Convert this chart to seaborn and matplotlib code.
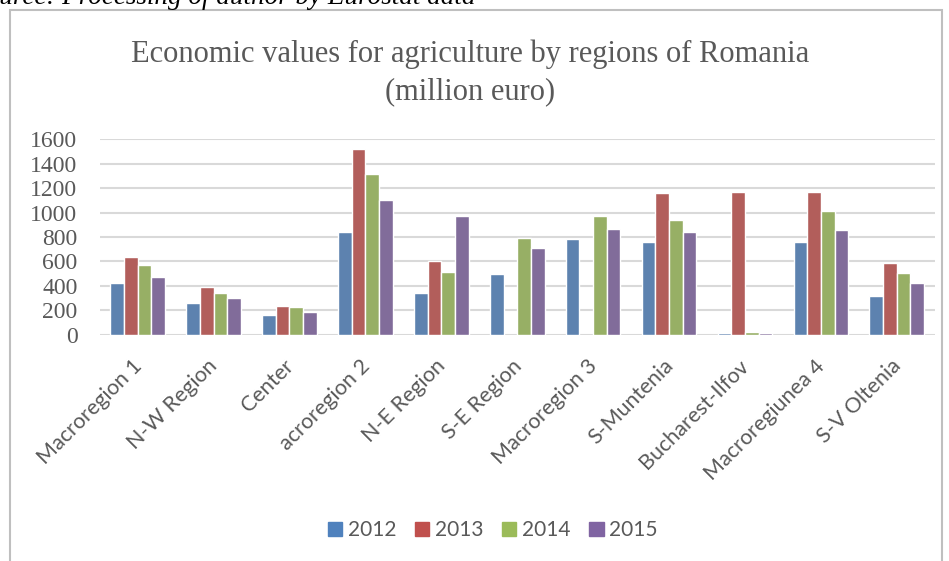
import numpy as np
import pandas as pd
import matplotlib
matplotlib.use("Agg")
import matplotlib.pyplot as plt
import matplotlib.transforms as mtransforms
import seaborn as sns
from matplotlib.patches import Rectangle

regions = ["Macroregion 1", "N-W Region", "Center", "acroregion 2", "N-E Region",
           "S-E Region", "Macroregion 3", "S-Muntenia", "Bucharest-Ilfov",
           "Macroregiunea 4", "S-V Oltenia"]
years = ["2012", "2013", "2014", "2015"]
v2012 = [422, 259, 163, 840, 340, 495, 781, 756, 15, 756, 318]
v2013 = [634, 394, 237, 1520, 601, np.nan, np.nan, 1159, 1167, 1167, 590]
v2014 = [569, 340, 226, 1314, 517, 791, 968, 938, 25, 1009, 506]
v2015 = [476, 299, 185, 1104, 968, 707, 862, 843, 15, 854, 422]
colors = ["#4F81BD", "#C0504D", "#9BBB59", "#8064A2"]

rows = []
for y, vals in zip(years, [v2012, v2013, v2014, v2015]):
    for r, v in zip(regions, vals):
        rows.append({"region": r, "year": y, "value": v})
df = pd.DataFrame(rows)

sns.set_style("white")
plt.rcParams['font.family'] = ['Lato', 'DejaVu Sans']

fig = plt.figure(figsize=(9.49, 5.61), dpi=100)
ax = fig.add_axes([0.105, 0.403, 0.88, 0.349])

sns.barplot(data=df, x="region", y="value", hue="year", hue_order=years,
            palette=colors, width=0.72, edgecolor="white", linewidth=1.0,
            ax=ax, legend=False, zorder=3)

ax.set_ylim(0, 1600)
ax.set_xlim(-0.5, len(regions) - 0.5)
ax.set_yticks(range(0, 1601, 200))
ax.yaxis.grid(True, color="#D9D9D9", linewidth=1.5, zorder=0)
ax.set_axisbelow(True)
for s in ax.spines.values():
    s.set_visible(False)
ax.tick_params(axis="both", length=0)
ax.tick_params(axis="y", pad=16)
ax.set_xlabel("")
ax.set_ylabel("")
for lab in ax.get_yticklabels():
    lab.set_fontfamily(["Liberation Serif", "DejaVu Serif"])
    lab.set_fontsize(17)
    lab.set_color("#595959")
ax.set_xticks(range(len(regions)))
ax.set_xticklabels(regions, rotation=45, ha="right", va="top", rotation_mode="anchor",
                   fontsize=15.5, color="#595959")
ax.tick_params(axis="x", pad=15)
offset = mtransforms.ScaledTranslation(-6 / 100, 0, fig.dpi_scale_trans)
for lab in ax.get_xticklabels():
    lab.set_transform(lab.get_transform() + offset)

fig.text(0.495, 0.903, "Economic values for agriculture by regions of Romania",
         ha="center", va="center", fontsize=22, color="#595959",
         family=["Liberation Serif", "DejaVu Serif"])
fig.text(0.495, 0.836, "(million euro)",
         ha="center", va="center", fontsize=22, color="#595959",
         family=["Liberation Serif", "DejaVu Serif"])

# caption cut off at top
fig.text(-0.029, 1 - 4 / 561, "Source: Processing of author by Eurostat data",
         ha="left", va="baseline", fontsize=19.5, style="italic", color="black",
         family=["Liberation Serif", "DejaVu Serif"])

# chart frame
fig.patches.append(Rectangle((0.011, -0.05), 0.982, 1.032, transform=fig.transFigure,
                             fill=False, edgecolor="#BFBFBF", linewidth=1.5))

handles = [Rectangle((0, 0), 1, 1, color=c) for c in colors]
fig.legend(handles, years, loc="center", bbox_to_anchor=(0.519, 0.055), ncol=4,
           frameon=False, handlelength=0.7, handleheight=0.7, handletextpad=0.25,
           columnspacing=0.9, prop={"size": 15, "family": ["Lato", "DejaVu Sans"]},
           labelcolor="#595959")

fig.savefig("out.png", dpi=100)
